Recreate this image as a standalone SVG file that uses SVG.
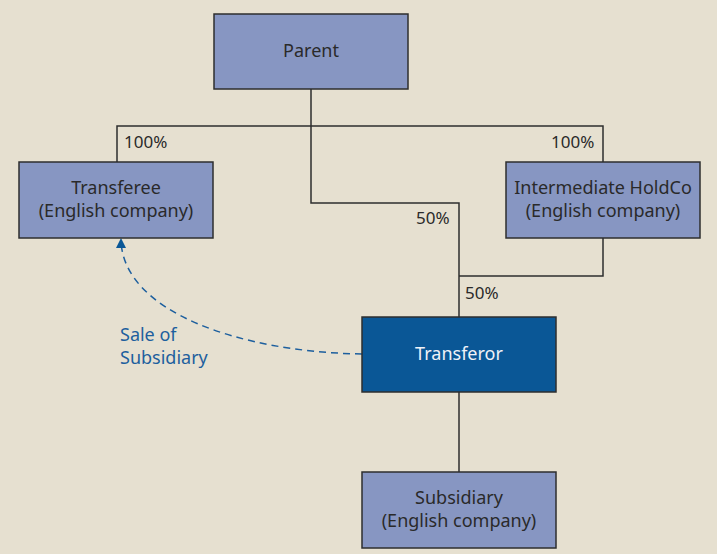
<svg xmlns="http://www.w3.org/2000/svg" width="717" height="554" viewBox="0 0 717 554">
<defs>
<style>
.box{fill:#8796c2;stroke:#2e2e2e;stroke-width:1.5}
.dark{fill:#0a5796;stroke:#2e2e2e;stroke-width:1.5}
.t{font-family:"Noto Sans","Open Sans",sans-serif;font-size:18px;fill:#2a2a2a;text-anchor:middle}
.tw{fill:#eef2f8}
.lbl{font-family:"Noto Sans","Open Sans",sans-serif;font-size:17px;fill:#2a2a2a}
.sale{font-family:"Noto Sans","Open Sans",sans-serif;font-size:18px;fill:#1d5f9e}
.ln{fill:none;stroke:#2e2e2e;stroke-width:1.5}
</style>
</defs>
<rect width="717" height="554" fill="#e6e0d0"/>
<g id="connectors">
<path class="ln" d="M311,89 V203 H459 V317"/>
<path class="ln" d="M117,162 V126 H603 V162"/>
<path class="ln" d="M603,238 V276 H459"/>
<path class="ln" d="M459,392 V472"/>
<path d="M362,354 C240,352 124,312 121,241" fill="none" stroke="#1d5f9e" stroke-width="1.5" stroke-dasharray="7,5"/>
<path d="M116,248 L121,238 L126,248 Z" fill="#0a5796"/>
<text class="lbl" x="124" y="148">100%</text>
<text class="lbl" x="551" y="148">100%</text>
<text class="lbl" x="416" y="224">50%</text>
<text class="lbl" x="465" y="299">50%</text>
<text class="sale" x="120" y="341">Sale of</text>
<text class="sale" x="120" y="364">Subsidiary</text>
</g>
<g id="parent">
<rect class="box" x="214" y="14" width="194" height="75"/>
<text class="t" x="311" y="57">Parent</text>
</g>
<g id="transferee">
<rect class="box" x="19" y="162" width="194" height="76"/>
<text class="t" x="116" y="194">Transferee</text>
<text class="t" x="116" y="217">(English company)</text>
</g>
<g id="intermediate">
<rect class="box" x="506" y="162" width="194" height="76"/>
<text class="t" x="603" y="194">Intermediate HoldCo</text>
<text class="t" x="603" y="217">(English company)</text>
</g>
<g id="transferor">
<rect class="dark" x="362" y="317" width="194" height="75"/>
<text class="t tw" x="459" y="360">Transferor</text>
</g>
<g id="subsidiary">
<rect class="box" x="362" y="472" width="194" height="76"/>
<text class="t" x="459" y="504">Subsidiary</text>
<text class="t" x="459" y="527">(English company)</text>
</g>
</svg>
